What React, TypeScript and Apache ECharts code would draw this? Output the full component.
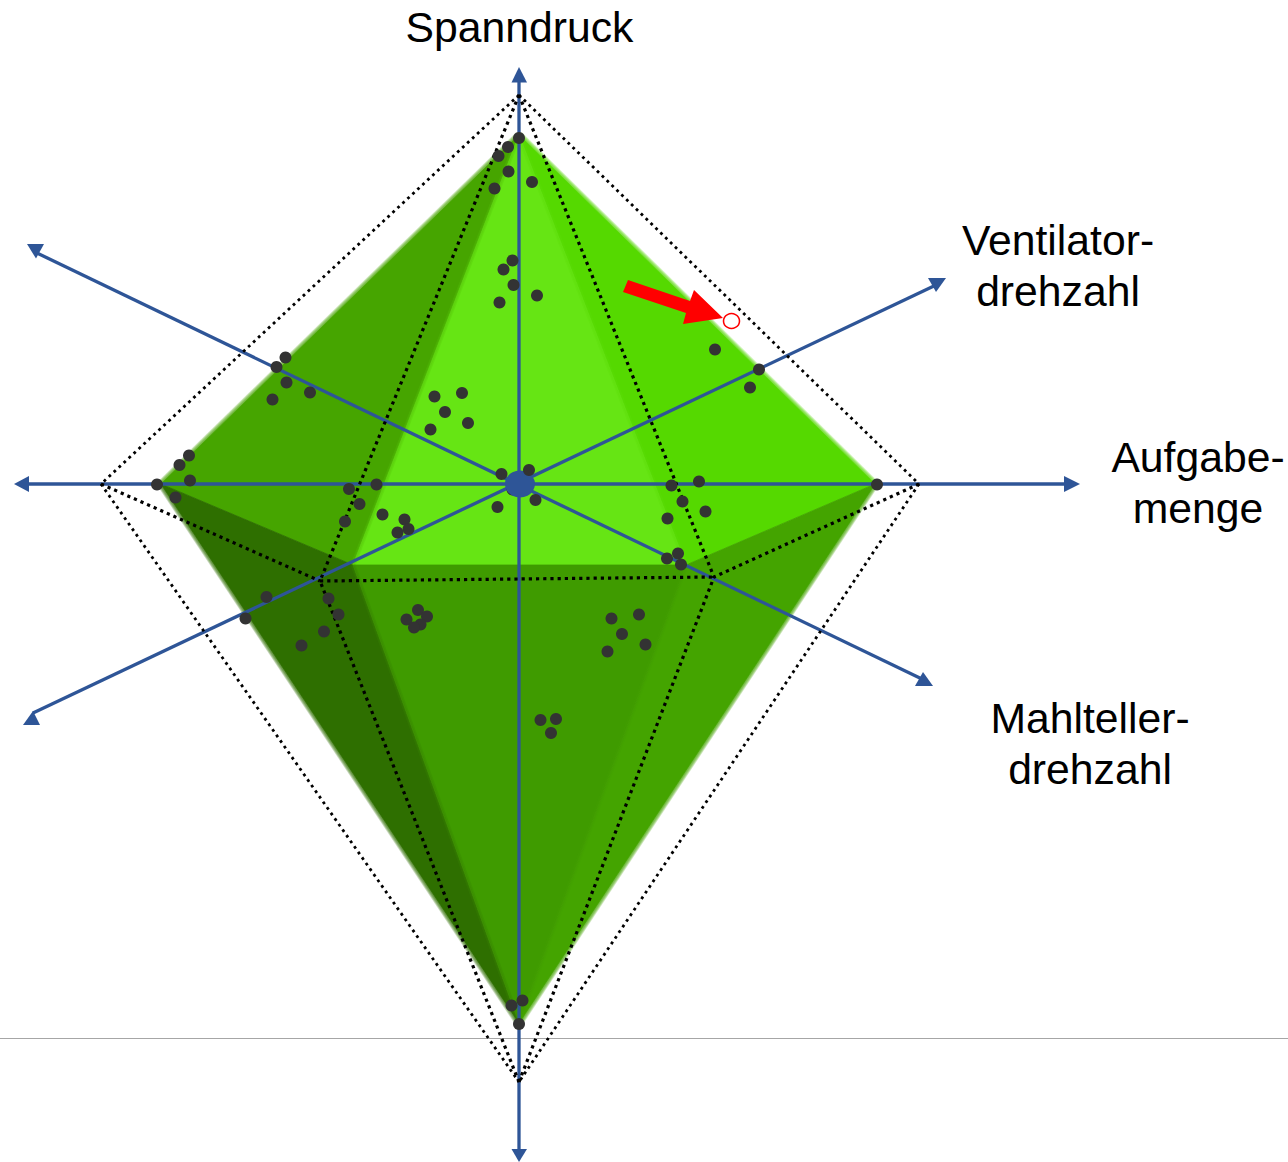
import React, { useEffect, useRef } from "react";
import * as echarts from "echarts";

type P = number[];

// Solid (green) vertices
const top: P = [519, 135];
const left: P = [161, 484];
const right: P = [875, 484];
const bottom: P = [519, 1023];
const frontLeft: P = [353, 565];
const frontRight: P = [686, 565];

const faces: { pts: P[]; color: string }[] = [
  { pts: [top, left, frontLeft], color: "#46a500" },
  { pts: [top, frontRight, right], color: "#55d900" },
  { pts: [top, frontLeft, frontRight], color: "#66e514" },
  { pts: [left, frontLeft, bottom], color: "#2e6f00" },
  { pts: [frontRight, right, bottom], color: "#44a400" },
  { pts: [frontLeft, frontRight, bottom], color: "#3f9b00" },
];

const softEdges: { pts: P[]; color: string }[] = [
  { pts: [top, left], color: "#46a500" },
  { pts: [top, right], color: "#55d900" },
  { pts: [left, bottom], color: "#2e6f00" },
  { pts: [right, bottom], color: "#44a400" },
];

// Gentle seams between neighbouring faces
const softSeams: { pts: P[]; color: string }[] = [
  { pts: [top, frontRight], color: "#5ddf0a" },
  { pts: [top, frontLeft], color: "#56c50a" },
  { pts: [frontLeft, bottom], color: "#378500" },
  { pts: [frontRight, bottom], color: "#41a000" },
];

// Outer dotted envelope
const oTop: P = [519, 95];
const oLeft: P = [101, 484];
const oRight: P = [919, 484];
const oBottom: P = [519, 1082];
const oFrontLeft: P = [320, 581];
const oFrontRight: P = [714, 577];
const dottedOuter: P[][] = [
  [oTop, oLeft],
  [oTop, oRight],
  [oLeft, oBottom],
  [oRight, oBottom],
];
const dottedInner: P[][] = [
  [oTop, oFrontLeft],
  [oTop, oFrontRight],
  [oBottom, oFrontLeft],
  [oBottom, oFrontRight],
  [oLeft, oFrontLeft],
  [oRight, oFrontRight],
  [oFrontLeft, oFrontRight],
];

// Blue axes and their arrow heads
const axisLines: P[][] = [
  [[519, 80], [519, 1151]],
  [[27, 484], [1066, 484]],
  [[37, 253], [924, 680]],
  [[33, 713], [936, 285]],
];
const arrowHeads: P[][] = [
  [[519, 67], [511.5, 82.5], [527, 82.5]],
  [[519, 1162], [511.5, 1149], [527, 1149]],
  [[1080, 484], [1064, 476], [1064, 492]],
  [[14, 484], [29, 476], [29, 492]],
  [[36, 258.5], [27, 244], [44, 244]],
  [[33, 711], [23, 725], [40, 725]],
  [[936, 292], [928, 278], [946, 278]],
  [[923, 672], [915, 686], [933, 686]],
];

const redArrow: P[] = [
  [628, 280], [690, 301], [694, 290], [723, 318], [683, 324], [686, 313], [623, 292],
];
const redCircle: P[] = [[731.5, 321]];
const centre: P[] = [[520, 484]];
const ruleLine: P[] = [[0, 1038.5], [1288, 1038.5]];

// Measurement points by drawing layer: below the axes, between axes and dotted lines, on top
const pointsUnder: P[] = [[759, 369.5], [245.5, 618.5], [512.5, 489.5]];
const pointsMiddle: P[] = [
  [328.5, 598.5], [682.5, 501.5], [345, 521.5], [338.5, 614.5], [349, 489], [671.5, 485.5],
];
const pointsOver: P[] = [
  [519, 138], [508, 147], [498.5, 156], [508.5, 171.5], [532, 182], [494.5, 188.5],
  [512.5, 260.5], [503.5, 269.5], [513.5, 285], [537, 295.5], [499.5, 302.5],
  [715, 349.5], [750, 387.5],
  [285.5, 357.5], [276.5, 367], [286.5, 382.5], [310, 392.5], [272.5, 399.5],
  [189, 455.5], [179.5, 465], [190, 480.5], [157, 484.5], [175.5, 497.5],
  [376.5, 484.5], [359.5, 504], [382.5, 514.5], [404.5, 519.5], [408.5, 529], [397.5, 532.5],
  [434.5, 396.5], [462, 393], [445, 412], [468, 423], [430.5, 429.5],
  [501.5, 474], [529, 470], [535.5, 500], [497.5, 507],
  [699, 481.5], [877, 484.5], [705.5, 511.5], [667.5, 518.5],
  [678, 553.5], [667, 558.5], [681, 564.5],
  [266.5, 597], [324, 631.5], [301.5, 645.5],
  [418, 610], [427, 616.5], [406.5, 619.5], [420.5, 624.5], [414, 627.5],
  [611.5, 618.5], [639, 614.5], [622, 634], [645.5, 644.5], [607.5, 651.5],
  [540.5, 720], [556, 719], [551, 733],
  [511.5, 1005.5], [522.5, 1000.5], [519, 1024],
];

const labelTexts: { lines: string[]; at: P }[] = [
  { lines: ["Spanndruck"], at: [519.5, 27] },
  { lines: ["Ventilator-", "drehzahl"], at: [1058, 265.5] },
  { lines: ["Aufgabe-", "menge"], at: [1198, 482.5] },
  { lines: ["Mahlteller-", "drehzahl"], at: [1090, 743.5] },
];

const BLUE = "#2e5597";
const DOT = "#333333";
const FONT = '"Liberation Sans", Arial, sans-serif';

function polySeries(id: string, polys: P[][], fill: string) {
  return {
    type: "custom",
    id,
    coordinateSystem: "cartesian2d",
    silent: true,
    data: polys.map((_, i) => [i]),
    renderItem: (params: any, api: any) => ({
      type: "polygon",
      shape: { points: polys[params.dataIndex].map((p) => api.coord(p)) },
      style: { fill },
    }),
  };
}

function lineSeries(id: string, lines: P[][], stroke: string, lineWidth: number, lineDash?: number[]) {
  return {
    type: "custom",
    id,
    coordinateSystem: "cartesian2d",
    silent: true,
    data: lines.map((_, i) => [i]),
    renderItem: (params: any, api: any) => ({
      type: "polyline",
      shape: { points: lines[params.dataIndex].map((p) => api.coord(p)) },
      style: { stroke, lineWidth, fill: "none", lineDash },
    }),
  };
}

function softSeries(id: string, edges: { pts: P[]; color: string }[], widths: number[], opacity: number) {
  const items: { pts: P[]; color: string; width: number }[] = [];
  edges.forEach((e) => widths.forEach((width) => items.push({ ...e, width })));
  return {
    type: "custom",
    id,
    coordinateSystem: "cartesian2d",
    silent: true,
    data: items.map((_, i) => [i]),
    renderItem: (params: any, api: any) => {
      const it = items[params.dataIndex];
      return {
        type: "polyline",
        shape: { points: it.pts.map((p) => api.coord(p)) },
        style: { stroke: it.color, lineWidth: it.width, fill: "none", opacity },
      };
    },
  };
}

function faceSeries() {
  return {
    type: "custom",
    id: "faces",
    coordinateSystem: "cartesian2d",
    silent: true,
    data: faces.map((_, i) => [i]),
    renderItem: (params: any, api: any) => {
      const f = faces[params.dataIndex];
      return {
        type: "polygon",
        shape: { points: f.pts.map((p) => api.coord(p)) },
        style: { fill: f.color, stroke: f.color, lineWidth: 0.8 },
      };
    },
  };
}

function dots(id: string, data: P[]) {
  return {
    type: "scatter",
    id,
    data,
    symbolSize: 12,
    itemStyle: { color: DOT, opacity: 1 },
    silent: true,
  };
}

export default function App() {
  const ref = useRef<HTMLDivElement>(null);
  useEffect(() => {
    document.body.style.margin = "0";
    const chart = echarts.init(ref.current!, undefined, { renderer: "svg" });
    chart.setOption({
      animation: false,
      backgroundColor: "#ffffff",
      grid: { left: 0, right: 0, top: 0, bottom: 0 },
      xAxis: { type: "value", min: 0, max: 1288, show: false },
      yAxis: { type: "value", min: 0, max: 1162, inverse: true, show: false },
      series: [
        lineSeries("rule", [ruleLine], "#a6a6a6", 1.2),
        softSeries("soft", softEdges, [8, 6.5, 5, 3.5, 2], 0.25),
        faceSeries(),
        softSeries("seams", softSeams, [5, 2.5], 0.3),
        dots("under", pointsUnder),
        lineSeries("axes", axisLines, BLUE, 3.3),
        polySeries("heads", arrowHeads, BLUE),
        {
          type: "scatter", id: "centre", data: centre, symbol: "circle", symbolSize: [30, 27],
          itemStyle: { color: BLUE, opacity: 1 }, silent: true,
        },
        dots("middle", pointsMiddle),
        lineSeries("dotOuter", dottedOuter, "#000000", 2.8, [2.8, 4]),
        lineSeries("dotInner", dottedInner, "#000000", 3.2, [3.2, 4]),
        dots("over", pointsOver),
        polySeries("redArrow", [redArrow], "#ff0000"),
        {
          type: "scatter", id: "redCircle", data: redCircle, symbol: "circle", symbolSize: [16, 15],
          itemStyle: { color: "#ffffff", borderColor: "#ff0000", borderWidth: 1.5, opacity: 1 }, silent: true,
        },
      ],
      graphic: labelTexts.map((t) => ({
        type: "text",
        x: t.at[0],
        y: t.at[1],
        silent: true,
        style: {
          text: t.lines.join("\n"),
          font: `42.7px ${FONT}`,
          fill: "#000000",
          align: "center",
          verticalAlign: "middle",
          lineHeight: 51.5,
        },
      })),
    });
    return () => chart.dispose();
  }, []);
  return <div ref={ref} style={{ position: "absolute", left: 0, top: 0, width: 1288, height: 1162 }} />;
}
